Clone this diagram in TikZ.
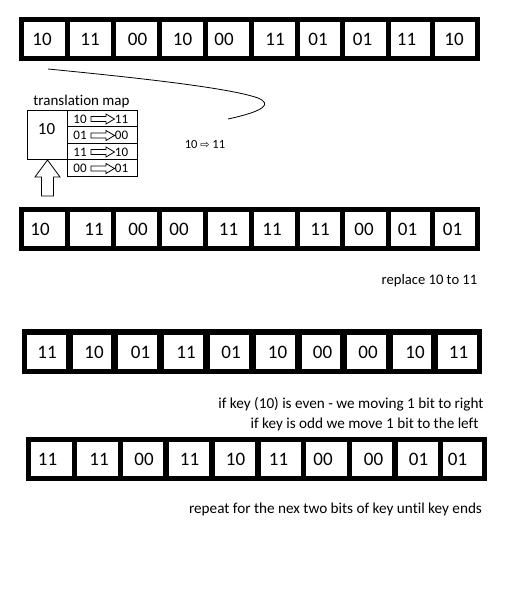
\documentclass[tikz,border=0pt]{standalone}
\usepackage{fontspec}
\setmainfont{Carlito}[Ligatures={NoCommon}]
\newfontfamily\symfont{DejaVu Sans}
\begin{document}
\begin{tikzpicture}[x=1pt,y=-1pt,
  cellbox/.style={draw=none,fill=white,inner sep=0pt,anchor=north west},
  celltxt/.style={inner sep=0pt,font=\fontsize{19}{19}\selectfont},
  note/.style={inner sep=0pt,font=\fontsize{15.2}{16}\selectfont},
  maptxt/.style={inner sep=0pt,font=\fontsize{13}{13}\selectfont},
  hollow/.style={draw=black,fill=white,line width=0.8pt,line join=miter}]
\useasboundingbox (0,0) rectangle (507,592);
\fill[white] (0,0) rectangle (507,592);

% ---------- row macro ----------
\newcommand{\bitrow}[8]{%
  \fill[black] (#2,#3) rectangle (#4,#5);
  \foreach \l/\r/\c/\t [count=\i] in {#8}{%
    \pgfmathsetmacro{\w}{\r-\l}\pgfmathsetmacro{\h}{#7-#6}%
    \node[cellbox,minimum width=\w pt,minimum height=\h pt] (#1c\i) at (\l,#6) {};
    \node[celltxt] (#1t\i) at (\c,{(#6+#7)/2}) {\t};
  }%
}

\bitrow{a}{19}{17}{480}{61}{22}{56}{24/65/42/10,70/111/90/11,116/157/137.5/00,162/203/182.5/10,208/249/224/00,254/295/275/11,300/340/318/01,345/386/362.5/01,391/430/406.5/11,435/475/454/10}

\bitrow{b}{19}{207}{480}{251}{212}{246}{24/65/40/10,70/111/94/11,116/157/138/00,162/203/179/00,208/249/228.5/11,254/295/272/11,300/340/320/11,345/386/364/00,391/430/407.5/01,435/475/452.5/01}

\bitrow{c}{22}{329}{482}{374}{335}{369}{27/66/47/11,73/111/94/10,118/157/140.5/01,164/203/186/11,210/249/231/01,256/295/277.5/10,302/340/322.5/00,347/386/368/00,393/431/415/10,438/477/458.5/11}

\bitrow{d}{26}{437}{487}{481}{442}{476}{31/72/47.5/11,77/118/99/11,123/163/144/00,169/209/189.5/11,215/255/235.5/10,261/301/278.5/11,306/347/323/00,352/392/373.5/00,398/438/418.5/01,443/482/457.5/01}

% ---------- curve ----------
\coordinate (cs) at (48,69);
\coordinate (cm) at (258,98);
\coordinate (ce) at (228,119);
\draw[line width=0.8pt] (cs) .. controls (140,78) and (230,88) .. (cm)
      .. controls (272,104) and (265,111) .. (ce);

% ---------- translation map ----------
\node[inner sep=0pt,font=\fontsize{15}{15}\selectfont] (maptitle) at (81.5,101) {translation map};
\draw[line width=0.8pt] (27,110) rectangle (67,159);
\node[inner sep=0pt,font=\fontsize{17}{17}\selectfont] (key) at (46.5,129) {10};
\foreach \y in {110,126.5,143,159.5}{
  \draw[line width=0.8pt] (67,\y) rectangle (137,\y+16.5);
}
\foreach \a/\b/\y [count=\i] in {10/11/119,01/00/135.5,11/10/152,00/01/168.5}{
  \node[maptxt] (ma\i) at (80,\y) {\a};
  \node[maptxt] (mb\i) at (121.5,\y) {\b};
  \draw[hollow] (91,\y-2.5) -- (106,\y-2.5) -- (106,\y-5) -- (114.5,\y) -- (106,\y+5) -- (106,\y+2.5) -- (91,\y+2.5) -- cycle;
}

% big up arrow
\draw[hollow] (47.5,160) -- (60,177) -- (53.5,177) -- (53.5,196) -- (41.5,196) -- (41.5,177) -- (35,177) -- cycle;

% ---------- notes ----------
\node[inner sep=0pt,font=\fontsize{12.5}{12.5}\selectfont] (ex) at (205,144) {10 {\symfont\fontsize{11}{11}\selectfont ⇨} 11};
\node[inner sep=0pt,font=\fontsize{14.6}{16}\selectfont] (n1) at (429.5,281) {replace 10 to 11};
\node[note] (n2) at (351,404) {if key (10) is even - we moving 1 bit to right};
\node[note] (n3) at (364.5,424) {if key is odd we move 1 bit to the left};
\node[note] (n4) at (335.5,509) {repeat for the nex two bits of key until key ends};
\end{tikzpicture}
\end{document}
